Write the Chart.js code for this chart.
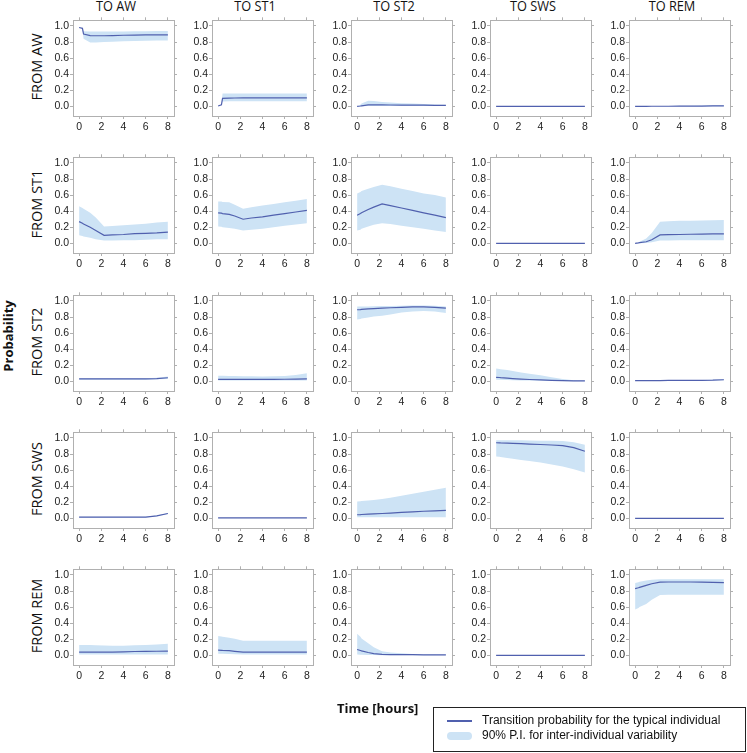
<!DOCTYPE html>
<html lang="en">
<head>
    <meta charset="UTF-8">
    <title>Transition probabilities</title>
    <script src="https://cdn.jsdelivr.net/npm/chart.js"></script>
    <style>
        body {
            margin: 0;
            width: 747px;
            height: 753px;
            position: relative;
            overflow: hidden;
            background: #fff;
            font-family: "Open Sans", sans-serif;
            color: #111;
        }
        .panel {
            position: absolute;
            width: 140px;
            height: 125px;
        }
        .coltitle {
            position: absolute;
            top: -5px;
            font-size: 15px;
            white-space: nowrap;
            transform: translateX(-50%) scaleX(0.85);
        }
        .rowlabel {
            position: absolute;
            font-size: 14.5px;
            white-space: nowrap;
            transform: translate(-50%, -50%) rotate(-90deg);
        }
        .axistitle {
            position: absolute;
            font-size: 13px;
            font-weight: bold;
            white-space: nowrap;
        }
        #legend {
            position: absolute;
            left: 433px;
            top: 707px;
            width: 311px;
            height: 43px;
            border: 1px solid #222;
            font-family: "Liberation Sans", Arial, sans-serif;
            font-size: 12px;
        }
        #legend .row {
            position: absolute;
            left: 13px;
            height: 16px;
            line-height: 16px;
            white-space: nowrap;
        }
        #legend .swatch {
            display: inline-block;
            width: 25px;
            vertical-align: middle;
            margin-right: 10px;
        }
    </style>
</head>
<body>
    <div id="grid"></div>

    <div class="axistitle" style="left:8px; top:336px; transform:translate(-50%,-50%) rotate(-90deg);">Probability</div>
    <div class="axistitle" style="left:337px; top:699px;">Time [hours]</div>

    <div id="legend">
        <div class="row" style="top:4px;"><span class="swatch" style="height:1.5px; background:#5060ae;"></span>Transition probability for the typical individual</div>
        <div class="row" style="top:19px;"><span class="swatch" style="height:8px; border-radius:4px; background:#cde3f5;"></span>90% P.I. for inter-individual variability</div>
    </div>

    <script>
        const states = ['AW', 'ST1', 'ST2', 'SWS', 'REM'];
        const times = [0, 0.3, 0.4, 1, 1.5, 2.25, 3, 4, 5, 6, 7, 8];
        const xTicks = [0, 2, 4, 6, 8];
        const yTicks = [0, 0.2, 0.4, 0.6, 0.8, 1.0];

        // each row: to AW, to ST1, to ST2, to SWS, to REM
        const typicalAW = [
            [0.98, 0.97, 0.9, 0.88, 0.878, 0.878, 0.88, 0.884, 0.886, 0.888, 0.889, 0.89],
            [0.005, 0.02, 0.1, 0.103, 0.104, 0.105, 0.105, 0.105, 0.105, 0.105, 0.105, 0.105],
            [0, 0.004, 0.006, 0.018, 0.02, 0.018, 0.017, 0.016, 0.015, 0.014, 0.013, 0.012],
            [0, 0, 0, 0, 0, 0, 0, 0, 0, 0, 0, 0],
            [0, 0, 0, 0, 0.001, 0.001, 0.001, 0.002, 0.003, 0.004, 0.005, 0.006]
        ];
        const upperAW = [
            [0.98, 0.97, 0.935, 0.932, 0.93, 0.93, 0.93, 0.932, 0.934, 0.935, 0.936, 0.937],
            [0.005, 0.02, 0.16, 0.16, 0.16, 0.16, 0.16, 0.16, 0.16, 0.16, 0.16, 0.16],
            [0, 0.02, 0.035, 0.07, 0.065, 0.055, 0.048, 0.04, 0.034, 0.028, 0.023, 0.02],
            [0.002, 0.002, 0.002, 0.002, 0.002, 0.002, 0.002, 0.002, 0.002, 0.002, 0.002, 0.002],
            [0, 0, 0, 0.001, 0.002, 0.003, 0.004, 0.006, 0.009, 0.011, 0.013, 0.015]
        ];
        const lowerAW = [
            [0.98, 0.97, 0.84, 0.795, 0.795, 0.8, 0.803, 0.808, 0.812, 0.815, 0.818, 0.82],
            [0.005, 0.02, 0.06, 0.062, 0.062, 0.063, 0.063, 0.063, 0.063, 0.064, 0.064, 0.064],
            [0, 0, 0, 0.004, 0.005, 0.005, 0.004, 0.004, 0.004, 0.004, 0.003, 0.003],
            [0, 0, 0, 0, 0, 0, 0, 0, 0, 0, 0, 0],
            [0, 0, 0, 0, 0, 0, 0, 0, 0, 0, 0, 0]
        ];

        const typicalST1 = [
            [0.27, 0.25, 0.24, 0.2, 0.16, 0.1, 0.105, 0.11, 0.12, 0.125, 0.13, 0.14],
            [0.38, 0.375, 0.37, 0.36, 0.34, 0.3, 0.315, 0.33, 0.35, 0.37, 0.39, 0.41],
            [0.35, 0.37, 0.38, 0.42, 0.45, 0.49, 0.47, 0.44, 0.41, 0.38, 0.35, 0.32],
            [0, 0, 0, 0, 0, 0, 0, 0, 0, 0, 0, 0],
            [0, 0.005, 0.008, 0.02, 0.045, 0.105, 0.108, 0.11, 0.113, 0.115, 0.117, 0.118]
        ];
        const upperST1 = [
            [0.46, 0.44, 0.43, 0.38, 0.32, 0.21, 0.215, 0.225, 0.235, 0.245, 0.26, 0.27],
            [0.52, 0.52, 0.515, 0.51, 0.48, 0.43, 0.45, 0.47, 0.49, 0.51, 0.53, 0.55],
            [0.62, 0.64, 0.65, 0.68, 0.7, 0.73, 0.71, 0.68, 0.65, 0.62, 0.6, 0.57],
            [0.002, 0.002, 0.002, 0.002, 0.002, 0.002, 0.002, 0.002, 0.002, 0.002, 0.002, 0.002],
            [0, 0.01, 0.02, 0.06, 0.13, 0.27, 0.275, 0.28, 0.282, 0.285, 0.287, 0.29]
        ];
        const lowerST1 = [
            [0.1, 0.09, 0.085, 0.07, 0.05, 0.035, 0.035, 0.04, 0.04, 0.045, 0.05, 0.05],
            [0.21, 0.205, 0.2, 0.19, 0.18, 0.16, 0.17, 0.18, 0.2, 0.22, 0.235, 0.25],
            [0.16, 0.17, 0.18, 0.21, 0.23, 0.25, 0.24, 0.22, 0.2, 0.18, 0.16, 0.14],
            [0, 0, 0, 0, 0, 0, 0, 0, 0, 0, 0, 0],
            [0, 0, 0, 0.005, 0.015, 0.035, 0.036, 0.037, 0.038, 0.04, 0.04, 0.04]
        ];

        const typicalST2 = [
            [0.03, 0.03, 0.03, 0.03, 0.03, 0.03, 0.03, 0.03, 0.03, 0.03, 0.035, 0.045],
            [0.025, 0.025, 0.025, 0.025, 0.025, 0.025, 0.025, 0.025, 0.025, 0.026, 0.028, 0.03],
            [0.89, 0.893, 0.895, 0.9, 0.905, 0.91, 0.915, 0.92, 0.925, 0.926, 0.92, 0.91],
            [0.05, 0.048, 0.046, 0.04, 0.035, 0.028, 0.023, 0.018, 0.013, 0.01, 0.007, 0.005],
            [0.01, 0.01, 0.01, 0.01, 0.01, 0.01, 0.011, 0.011, 0.012, 0.012, 0.014, 0.02]
        ];
        const upperST2 = [
            [0.04, 0.04, 0.04, 0.04, 0.04, 0.04, 0.04, 0.04, 0.04, 0.04, 0.045, 0.06],
            [0.07, 0.07, 0.07, 0.068, 0.066, 0.064, 0.062, 0.06, 0.062, 0.066, 0.08, 0.1],
            [0.93, 0.93, 0.93, 0.932, 0.934, 0.936, 0.938, 0.94, 0.942, 0.943, 0.94, 0.93],
            [0.16, 0.155, 0.15, 0.14, 0.13, 0.11, 0.095, 0.075, 0.05, 0.03, 0.015, 0.01],
            [0.014, 0.014, 0.014, 0.014, 0.014, 0.015, 0.015, 0.016, 0.017, 0.018, 0.02, 0.026]
        ];
        const lowerST2 = [
            [0.02, 0.02, 0.02, 0.02, 0.02, 0.02, 0.02, 0.02, 0.02, 0.02, 0.025, 0.03],
            [0.01, 0.01, 0.01, 0.01, 0.01, 0.01, 0.01, 0.01, 0.01, 0.01, 0.01, 0.01],
            [0.77, 0.775, 0.78, 0.795, 0.805, 0.815, 0.83, 0.855, 0.87, 0.875, 0.87, 0.85],
            [0.02, 0.02, 0.02, 0.018, 0.015, 0.012, 0.01, 0.008, 0.005, 0.003, 0.002, 0.001],
            [0.007, 0.007, 0.007, 0.007, 0.007, 0.007, 0.008, 0.008, 0.008, 0.009, 0.01, 0.014]
        ];

        const typicalSWS = [
            [0.015, 0.015, 0.015, 0.015, 0.015, 0.015, 0.015, 0.015, 0.015, 0.016, 0.03, 0.06],
            [0.005, 0.005, 0.005, 0.005, 0.005, 0.005, 0.005, 0.005, 0.005, 0.005, 0.005, 0.005],
            [0.045, 0.047, 0.048, 0.052, 0.056, 0.06, 0.066, 0.074, 0.08, 0.088, 0.094, 0.1],
            [0.94, 0.939, 0.938, 0.935, 0.932, 0.928, 0.924, 0.918, 0.912, 0.905, 0.88, 0.835],
            [0, 0, 0, 0, 0, 0, 0, 0, 0, 0, 0, 0]
        ];
        const upperSWS = [
            [0.02, 0.02, 0.02, 0.02, 0.02, 0.02, 0.02, 0.02, 0.02, 0.021, 0.035, 0.066],
            [0.009, 0.009, 0.009, 0.009, 0.009, 0.009, 0.009, 0.009, 0.009, 0.009, 0.009, 0.009],
            [0.21, 0.213, 0.215, 0.222, 0.228, 0.24, 0.255, 0.28, 0.305, 0.33, 0.355, 0.38],
            [0.97, 0.97, 0.97, 0.97, 0.97, 0.97, 0.968, 0.966, 0.965, 0.962, 0.945, 0.915],
            [0.002, 0.002, 0.002, 0.002, 0.002, 0.002, 0.002, 0.002, 0.002, 0.002, 0.002, 0.002]
        ];
        const lowerSWS = [
            [0.01, 0.01, 0.01, 0.01, 0.01, 0.01, 0.01, 0.01, 0.01, 0.011, 0.025, 0.054],
            [0.002, 0.002, 0.002, 0.002, 0.002, 0.002, 0.002, 0.002, 0.002, 0.002, 0.002, 0.002],
            [0.015, 0.015, 0.015, 0.015, 0.015, 0.015, 0.015, 0.015, 0.015, 0.015, 0.015, 0.015],
            [0.77, 0.765, 0.762, 0.75, 0.74, 0.725, 0.713, 0.695, 0.67, 0.645, 0.61, 0.57],
            [0, 0, 0, 0, 0, 0, 0, 0, 0, 0, 0, 0]
        ];

        const typicalREM = [
            [0.04, 0.04, 0.04, 0.04, 0.04, 0.04, 0.04, 0.043, 0.048, 0.05, 0.051, 0.053],
            [0.065, 0.063, 0.062, 0.058, 0.05, 0.04, 0.04, 0.04, 0.04, 0.04, 0.04, 0.04],
            [0.073, 0.06, 0.055, 0.035, 0.022, 0.012, 0.01, 0.01, 0.008, 0.007, 0.006, 0.005],
            [0, 0, 0, 0, 0, 0, 0, 0, 0, 0, 0, 0],
            [0.83, 0.84, 0.845, 0.87, 0.89, 0.91, 0.912, 0.912, 0.912, 0.91, 0.908, 0.905]
        ];
        const upperREM = [
            [0.13, 0.13, 0.13, 0.128, 0.126, 0.123, 0.12, 0.12, 0.125, 0.13, 0.136, 0.143],
            [0.24, 0.235, 0.232, 0.22, 0.205, 0.18, 0.18, 0.18, 0.18, 0.18, 0.18, 0.18],
            [0.27, 0.23, 0.21, 0.15, 0.1, 0.05, 0.035, 0.025, 0.018, 0.012, 0.01, 0.008],
            [0.002, 0.002, 0.002, 0.002, 0.002, 0.002, 0.002, 0.002, 0.002, 0.002, 0.002, 0.002],
            [0.9, 0.91, 0.915, 0.93, 0.94, 0.945, 0.946, 0.946, 0.946, 0.946, 0.946, 0.946]
        ];
        const lowerREM = [
            [0.01, 0.01, 0.01, 0.01, 0.01, 0.01, 0.01, 0.01, 0.01, 0.01, 0.01, 0.01],
            [0.02, 0.02, 0.02, 0.017, 0.014, 0.01, 0.01, 0.01, 0.01, 0.01, 0.01, 0.01],
            [0.01, 0.008, 0.006, 0.004, 0.003, 0.002, 0.001, 0, 0, 0, 0, 0],
            [0, 0, 0, 0, 0, 0, 0, 0, 0, 0, 0, 0],
            [0.57, 0.59, 0.6, 0.64, 0.69, 0.75, 0.755, 0.755, 0.755, 0.755, 0.755, 0.755]
        ];

        const typical = [typicalAW, typicalST1, typicalST2, typicalSWS, typicalREM];
        const upper = [upperAW, upperST1, upperST2, upperSWS, upperREM];
        const lower = [lowerAW, lowerST1, lowerST2, lowerSWS, lowerREM];

        const lineColor = '#5060ae';
        const bandColor = '#cde3f5';
        const boxColor = '#b0b0b0';
        const tickFont = { family: 'Liberation Sans', size: 10.5 };

        // plot-area geometry of the 5x5 grid
        const plotLeft0 = 73, plotTop0 = 18, colStep = 139, rowStep = 137.25;
        const yAxisW = 34, x2H = 5;

        function pts(vals) {
            return times.map((t, i) => ({ x: t, y: vals[i] }));
        }

        function axis(pos, isX, labels) {
            const ticksArr = isX ? xTicks : yTicks;
            return {
                type: 'linear',
                position: pos,
                min: isX ? -0.55 : -0.12,
                max: isX ? 8.55 : 1.07,
                afterBuildTicks: s => { s.ticks = ticksArr.map(v => ({ value: v })); },
                afterFit: s => {
                    if (pos === 'left') s.width = yAxisW;
                    if (pos === 'right') s.width = 5;
                    if (pos === 'bottom') s.height = 22;
                    if (pos === 'top') s.height = x2H;
                },
                grid: { drawOnChartArea: false, drawTicks: true, tickLength: 3, color: boxColor },
                border: { color: boxColor, width: 1 },
                ticks: {
                    display: labels,
                    font: tickFont,
                    color: '#222',
                    padding: isX ? 2 : 1,
                    maxRotation: 0,
                    autoSkip: false,
                    callback: v => isX ? String(v) : v.toFixed(1)
                }
            };
        }

        const grid = document.getElementById('grid');

        states.forEach((from, r) => {
            const plotTop = plotTop0 + rowStep * r;

            const lab = document.createElement('div');
            lab.className = 'rowlabel';
            lab.style.left = '36px';
            lab.style.top = (plotTop + 49) + 'px';
            lab.textContent = 'FROM ' + from;
            grid.appendChild(lab);

            states.forEach((to, c) => {
                const plotLeft = plotLeft0 + colStep * c;

                if (r === 0) {
                    const t = document.createElement('div');
                    t.className = 'coltitle';
                    t.style.left = (plotLeft + 43) + 'px';
                    t.textContent = 'TO ' + to;
                    grid.appendChild(t);
                }

                const box = document.createElement('div');
                box.className = 'panel';
                box.style.left = (plotLeft - yAxisW) + 'px';
                box.style.top = (plotTop - x2H) + 'px';
                const cv = document.createElement('canvas');
                box.appendChild(cv);
                grid.appendChild(box);

                new Chart(cv.getContext('2d'), {
                    type: 'line',
                    data: {
                        datasets: [{
                            label: 'Transition probability for the typical individual',
                            data: pts(typical[r][c]),
                            borderColor: lineColor,
                            borderWidth: 1.2,
                            pointRadius: 0,
                            fill: false
                        }, {
                            label: '90% P.I. upper',
                            data: pts(upper[r][c]),
                            borderWidth: 0,
                            pointRadius: 0,
                            backgroundColor: bandColor,
                            fill: '+1'
                        }, {
                            label: '90% P.I. lower',
                            data: pts(lower[r][c]),
                            borderWidth: 0,
                            pointRadius: 0,
                            fill: false
                        }]
                    },
                    options: {
                        responsive: true,
                        maintainAspectRatio: false,
                        animation: false,
                        layout: { padding: 0 },
                        plugins: { legend: { display: false }, tooltip: { enabled: false } },
                        scales: {
                            x: axis('bottom', true, true),
                            x2: axis('top', true, false),
                            y: axis('left', false, true),
                            y2: axis('right', false, false)
                        }
                    }
                });
            });
        });
    </script>
</body>
</html>
